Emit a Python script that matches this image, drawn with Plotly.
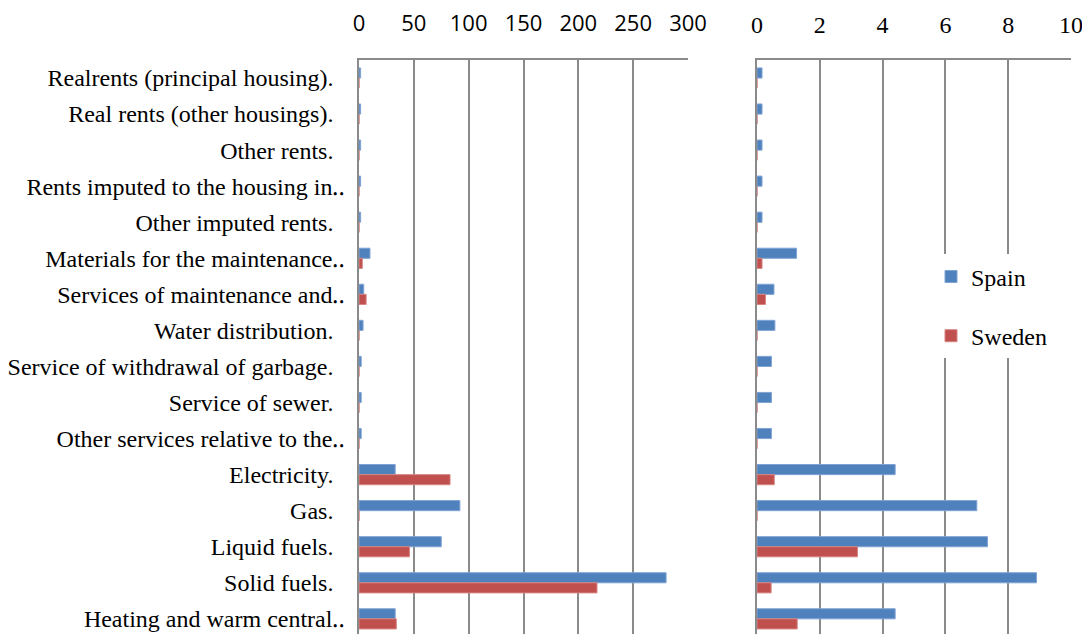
import plotly.graph_objects as go

categories = [
    "Realrents (principal housing).",
    "Real rents (other housings).",
    "Other rents.",
    "Rents imputed to the housing in‥",
    "Other imputed rents.",
    "Materials for the maintenance‥",
    "Services of maintenance and‥",
    "Water distribution.",
    "Service of withdrawal of garbage.",
    "Service of sewer.",
    "Other services relative to the‥",
    "Electricity.",
    "Gas.",
    "Liquid fuels.",
    "Solid fuels.",
    "Heating and warm central‥",
]
# normal labels get a trailing gap like the reference
labels = [c if c.endswith("‥") else c + "\u00a0\u00a0" for c in categories]

spain_left = [1.5, 1.5, 1.5, 1.5, 1.5, 10, 4.3, 3.7, 2, 2, 2, 33, 92, 75, 280, 33]
sweden_left = [0, 0, 0, 0, 0, 3, 6.5, 0, 0, 0, 0, 83, 0, 46, 217, 34]

spain_right = [0.16, 0.16, 0.16, 0.16, 0.16, 1.26, 0.54, 0.57, 0.46, 0.46, 0.46, 4.4, 7.0, 7.34, 8.9, 4.4]
sweden_right = [0, 0, 0, 0, 0, 0.16, 0.27, 0, 0, 0, 0, 0.55, 0, 3.2, 0.45, 1.28]

left_ticks = [0, 50, 100, 150, 200, 250, 300]
right_ticks = [0, 2, 4, 6, 8, 10]

BLUE = "#4F81BD"
RED = "#C0504D"
GRID = "#8A8A8A"
SERIF = "Liberation Serif, Times New Roman, serif"
SANS = "Open Sans, sans-serif"

fig = go.Figure()
fig.add_trace(go.Bar(y=labels, x=spain_left, orientation="h", name="Spain",
                     marker=dict(color=BLUE, line=dict(color="#7FA3D3", width=1)),
                     xaxis="x", yaxis="y", showlegend=False))
fig.add_trace(go.Bar(y=labels, x=sweden_left, orientation="h", name="Sweden",
                     marker=dict(color=RED, line=dict(color="#D68482", width=1)),
                     xaxis="x", yaxis="y", showlegend=False))
fig.add_trace(go.Bar(y=labels, x=spain_right, orientation="h", name="Spain",
                     marker=dict(color=BLUE, line=dict(color="#7FA3D3", width=1)),
                     xaxis="x2", yaxis="y2", legendgroup="a"))
fig.add_trace(go.Bar(y=labels, x=sweden_right, orientation="h", name="Sweden",
                     marker=dict(color=RED, line=dict(color="#D68482", width=1)),
                     xaxis="x2", yaxis="y2", legendgroup="b"))

# page body has an 8px margin, so the figure is 8px smaller than the window
W, H = 1082, 626
OFF = 8
yrange = [15.42, -0.5]

fig.update_layout(
    width=W, height=H,
    margin=dict(l=0, r=0, t=60 - OFF, b=0, autoexpand=False),
    paper_bgcolor="white", plot_bgcolor="white",
    barmode="group", bargap=0.44, bargroupgap=0,
    font=dict(family=SERIF, color="#000000"),
    xaxis=dict(domain=[(359 - OFF) / W, (688 - OFF) / W], side="top", range=[0, 300],
               tickvals=left_ticks, showgrid=True, gridcolor=GRID, gridwidth=1.5,
               showline=True, linecolor=GRID, linewidth=1.5, zeroline=False,
               ticks="", ticklabelstandoff=18, automargin=False,
               tickfont=dict(family=SANS, size=22, color="#000000"),
               anchor="y", fixedrange=True),
    yaxis=dict(domain=[0, 1], range=yrange, showgrid=False, showline=True,
               linecolor=GRID, linewidth=1.5, ticks="", ticklabelstandoff=7,
               automargin=False,
               tickfont=dict(family=SERIF, size=24, color="#000000"),
               anchor="x"),
    xaxis2=dict(domain=[(757 - OFF) / W, (1071 - OFF) / W], side="top", range=[0, 10],
                tickvals=right_ticks, showgrid=True, gridcolor=GRID, gridwidth=1.5,
                showline=True, linecolor=GRID, linewidth=1.5, zeroline=False,
                ticks="", ticklabelstandoff=16, automargin=False,
                tickfont=dict(family=SERIF, size=24, color="#000000"),
                anchor="y2"),
    yaxis2=dict(domain=[0, 1], range=yrange, showgrid=False, showline=True,
                linecolor=GRID, linewidth=1.5, showticklabels=False, ticks="",
                automargin=False, anchor="x2"),
    legend=dict(x=(931 - OFF) / W, y=1 - (220 - OFF) / H, xanchor="left", yanchor="top",
                bgcolor="white", borderwidth=0, tracegroupgap=25,
                traceorder="grouped", itemwidth=30,
                font=dict(family=SERIF, size=24, color="#000000")),
)

fig.write_html("out.html")
